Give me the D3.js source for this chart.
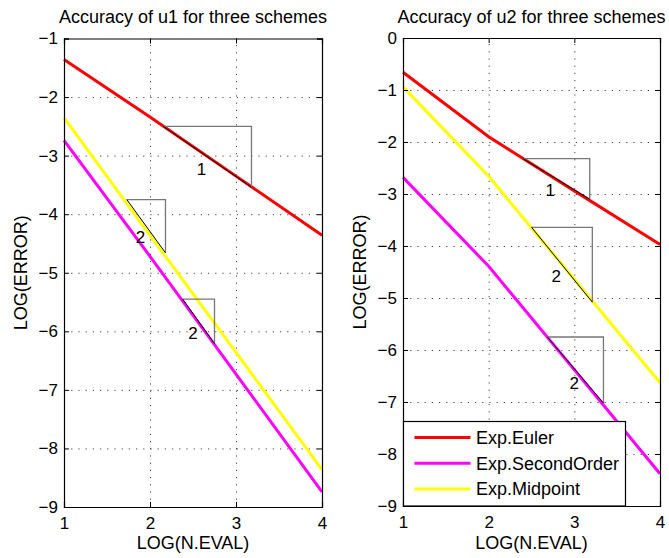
<!DOCTYPE html>
<html>
<head>
<meta charset="utf-8">
<script src="https://cdn.jsdelivr.net/npm/d3@7"></script>
<style>
  body { margin: 0; background: #fff; }
  svg text { font-family: "Liberation Sans", Arial, sans-serif; fill: #000; }
</style>
</head>
<body>
<svg width="669" height="558"></svg>
<script>
// log(N.EVAL) values, shared by both panels
let nEval = [1, 2, 3, 4]

// panel 1: accuracy of u1
let u1Euler = [-1.36, -2.34, -3.35, -4.36]
let u1Second = [-2.74, -4.72, -6.73, -8.74]
let u1Mid = [-2.35, -4.36, -6.36, -8.36]

// panel 2: accuracy of u2
let u2Euler = [-0.66, -1.90, -2.94, -3.97]
let u2Second = [-2.68, -4.39, -6.38, -8.38]
let u2Mid = [-0.94, -2.66, -4.64, -6.63]

let seriesNames = ['Exp.Euler', 'Exp.SecondOrder', 'Exp.Midpoint']
let seriesColors = ['#ff0000', '#ff00ff', '#ffff00']

let xTicks = [1, 2, 3, 4]
let u1YTicks = [-9, -8, -7, -6, -5, -4, -3, -2, -1]
let u2YTicks = [-9, -8, -7, -6, -5, -4, -3, -2, -1, 0]

// slope triangles: [x0, y0, x1, y1, labelX, labelY, label]
let u1Slopes = [
    [2.155, -2.50, 3.18, -3.54, 2.60, -3.22, '1'],
    [1.73, -3.75, 2.18, -4.66, 1.89, -4.39, '2'],
    [2.38, -5.45, 2.75, -6.21, 2.50, -6.02, '2']
]
let u2Slopes = [
    [2.40, -2.32, 3.18, -3.10, 2.72, -2.93, '1'],
    [2.50, -3.64, 3.21, -5.08, 2.79, -4.57, '2'],
    [2.685, -5.75, 3.34, -7.02, 3.00, -6.63, '2']
]

let svg = d3.select('svg')

let drawPanel = (opts) => {
    let x = d3.scaleLinear().domain([1, 4]).range([opts.left, opts.right])
    let y = d3.scaleLinear().domain(opts.yDomain).range([opts.bottom, opts.top])
    let w = opts.right - opts.left
    let h = opts.bottom - opts.top
    let g = svg.append('g')

    // dotted grid
    g.append('g')
        .attr('transform', 'translate(0,' + opts.bottom + ')')
        .call(d3.axisBottom(x).tickValues(xTicks.slice(1, -1)).tickSize(-h).tickFormat(''))
        .call(s => s.select('.domain').remove())
        .selectAll('line')
        .attr('stroke', '#444')
        .attr('stroke-dasharray', '1.2,6')
    g.append('g')
        .attr('transform', 'translate(' + opts.left + ',0)')
        .call(d3.axisLeft(y).tickValues(opts.yTicks.slice(1, -1)).tickSize(-w).tickFormat(''))
        .call(s => s.select('.domain').remove())
        .selectAll('line')
        .attr('stroke', '#444')
        .attr('stroke-dasharray', '1.2,6')

    // data lines
    let line = d3.line()
        .x((d, i) => x(nEval[i]))
        .y(d => y(d))
    opts.series.forEach((vals, k) => {
        g.append('path')
            .datum(vals)
            .attr('d', line)
            .attr('fill', 'none')
            .attr('stroke', seriesColors[k])
            .attr('stroke-width', 3)
    })

    // slope triangles
    opts.slopes.forEach(t => {
        g.append('path')
            .attr('d', 'M' + x(t[0]) + ',' + y(t[1]) + 'H' + x(t[2]) + 'V' + y(t[3]))
            .attr('fill', 'none')
            .attr('stroke', '#777')
            .attr('stroke-width', 1.3)
        g.append('line')
            .attr('x1', x(t[0])).attr('y1', y(t[1]))
            .attr('x2', x(t[2])).attr('y2', y(t[3]))
            .attr('stroke', '#000')
            .attr('stroke-width', 1)
        g.append('text')
            .attr('x', x(t[4]))
            .attr('y', y(t[5]))
            .attr('dy', '0.36em')
            .attr('text-anchor', 'middle')
            .style('font-size', '17px')
            .text(t[6])
    })

    // axes with inward ticks
    let fmt = d3.format('d')
    let bottomAxis = g.append('g')
        .attr('transform', 'translate(0,' + opts.bottom + ')')
        .call(d3.axisBottom(x).tickValues(xTicks).tickSize(-5).tickPadding(10).tickFormat(fmt))
    let leftAxis = g.append('g')
        .attr('transform', 'translate(' + opts.left + ',0)')
        .call(d3.axisLeft(y).tickValues(opts.yTicks).tickSize(-5).tickPadding(6).tickFormat(fmt))
    g.append('g')
        .attr('transform', 'translate(0,' + opts.top + ')')
        .call(d3.axisTop(x).tickValues(xTicks).tickSize(-5).tickFormat(''))
    g.append('g')
        .attr('transform', 'translate(' + opts.right + ',0)')
        .call(d3.axisRight(y).tickValues(opts.yTicks).tickSize(-5).tickFormat(''))
    g.selectAll('.domain').attr('stroke', '#000').attr('stroke-width', 1.2)
    g.selectAll('.tick line').filter(function () { return !this.getAttribute('stroke-dasharray') })
        .attr('stroke', '#000')
    bottomAxis.selectAll('text').style('font-size', '17px').attr('fill', '#000')
    leftAxis.selectAll('text').style('font-size', '17px').attr('fill', '#000')
    g.selectAll('.tick text').attr('font-family', null)

    // title and labels
    g.append('text')
        .attr('x', (opts.left + opts.right) / 2)
        .attr('y', 23)
        .attr('text-anchor', 'middle')
        .style('font-size', '18px')
        .text(opts.title)
    g.append('text')
        .attr('x', (opts.left + opts.right) / 2)
        .attr('y', 549)
        .attr('text-anchor', 'middle')
        .style('font-size', '18px')
        .text('LOG(N.EVAL)')
    g.append('text')
        .attr('transform', 'translate(' + opts.yLabelX + ',' + ((opts.top + opts.bottom) / 2) + ') rotate(-90)')
        .attr('text-anchor', 'middle')
        .style('font-size', '18px')
        .text('LOG(ERROR)')

    return g
}

drawPanel({
    left: 64, right: 322, top: 38.5, bottom: 507,
    yDomain: [-9, -1], yTicks: u1YTicks,
    series: [u1Euler, u1Second, u1Mid], slopes: u1Slopes,
    title: 'Accuracy of u1 for three schemes', yLabelX: 27
})

let g2 = drawPanel({
    left: 403, right: 660, top: 38, bottom: 506,
    yDomain: [-9, 0], yTicks: u2YTicks,
    series: [u2Euler, u2Second, u2Mid], slopes: u2Slopes,
    title: 'Accuracy of u2 for three schemes', yLabelX: 366
})

// legend in lower-left of panel 2
let legend = g2.append('g').attr('transform', 'translate(403.5,421.5)')
legend.append('rect')
    .attr('width', 222)
    .attr('height', 84.5)
    .attr('fill', '#fff')
    .attr('stroke', '#000')
    .attr('stroke-width', 1.2)
seriesNames.forEach((name, i) => {
    let yy = 16 + i * 25.7
    legend.append('line')
        .attr('x1', 11).attr('x2', 67)
        .attr('y1', yy).attr('y2', yy)
        .attr('stroke', seriesColors[i])
        .attr('stroke-width', 3)
    legend.append('text')
        .attr('x', 72.5)
        .attr('y', yy)
        .attr('dy', '0.36em')
        .style('font-size', '18px')
        .text(name)
})
</script>
</body>
</html>
